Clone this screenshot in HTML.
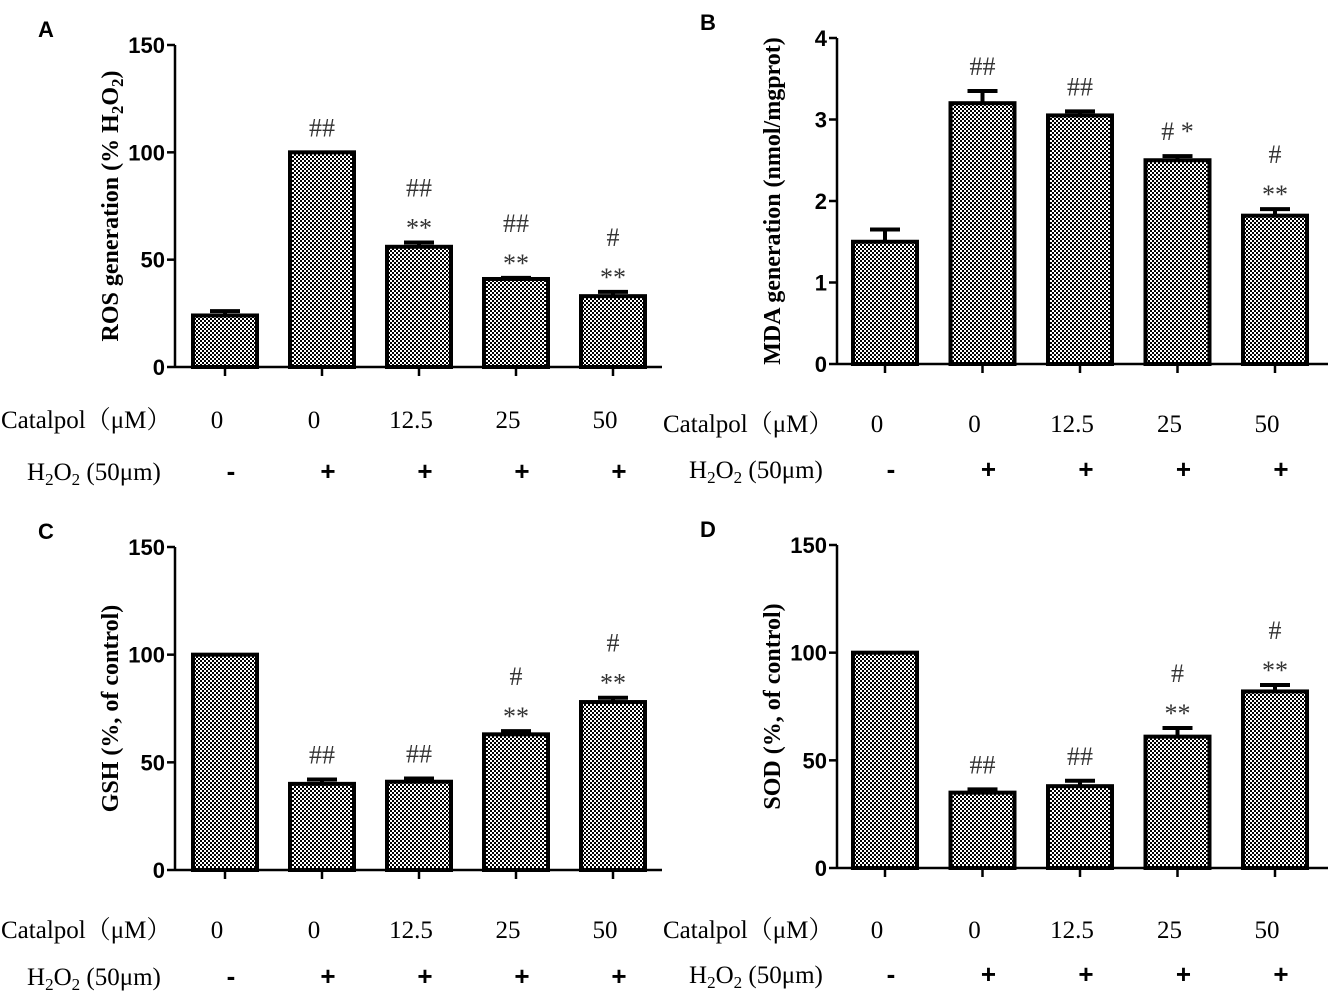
<!DOCTYPE html>
<html><head><meta charset="utf-8"><style>
body{margin:0;background:#fff;}
svg{display:block;}
</style></head><body>
<svg id="fig" width="1328" height="993" viewBox="0 0 1328 993" xmlns="http://www.w3.org/2000/svg">
<defs>
<pattern id="chk" width="4" height="4" patternUnits="userSpaceOnUse">
<rect width="4" height="4" fill="#fff"/>
<rect width="2" height="2" fill="#000"/>
<rect x="2" y="2" width="2" height="2" fill="#000"/>
</pattern>
</defs>
</svg>
<script>
const catalpolLabels = ["0","0","12.5","25","50"];
const h2o2Labels = ["-","+","+","+","+"];
const rosValues = [24,100,56,41,33];
const rosErrors = [2,0,2,0.5,2];
const rosAnnot = [[],["##"],["**","##"],["**","##"],["**","#"]];
const mdaValues = [1.5,3.2,3.05,2.5,1.82];
const mdaErrors = [0.15,0.15,0.05,0.05,0.08];
const mdaAnnot = [[],["##"],["##"],["# *"],["**","#"]];
const gshValues = [100,40,41,63,78];
const gshErrors = [0,2,1.5,1.5,2];
const gshAnnot = [[],["##"],["##"],["**","#"],["**","#"]];
const sodValues = [100,35,38,61,82];
const sodErrors = [0,1.5,2.5,4,3];
const sodAnnot = [[],["##"],["##"],["**","#"],["**","#"]];
const ticks150 = [0,50,100,150];
const ticks4 = [0,1,2,3,4];

const NS="http://www.w3.org/2000/svg";
const svg=document.getElementById('fig');
function mk(tag,attrs,parent){const e=document.createElementNS(NS,tag);for(const k in attrs)e.setAttribute(k,attrs[k]);(parent||svg).appendChild(e);return e;}

function panel(o){
  const g=mk('g',{});
  
  
  const ymax=o.ticks[o.ticks.length-1];
  const y=v=>o.y0-(v/ymax)*(o.y0-o.yTop);
  const x=i=>o.cx0+i*o.step;
  const L=mk('text',{x:o.ax-137,y:o.yTop-8,'font-family':'Liberation Sans, sans-serif','font-weight':'bold','font-size':'22px'},g);
  L.textContent=o.letter;
  
  
  const ya=mk('line',{x1:o.ax,y1:o.yTop,x2:o.ax,y2:o.y0+1,stroke:'#000','stroke-width':2.5},g);
  
  
  const xa=mk('line',{x1:o.ax,y1:o.y0,x2:o.xEnd,y2:o.y0,stroke:'#000','stroke-width':2.5},g);
  
  
  o.ticks.forEach(t=>{
    mk('line',{x1:o.ax-8,y1:y(t),x2:o.ax,y2:y(t),stroke:'#000','stroke-width':2.5},g);
    const tt=mk('text',{x:o.ax-10,y:y(t)+8,'text-anchor':'end','font-family':'Liberation Sans, sans-serif','font-weight':'bold','font-size':'22px'},g);
    tt.textContent=t;
    
    
  });
  const yt=mk('text',{transform:`translate(${o.ax-57},${(o.y0+o.yTop)/2}) rotate(-90)`,'text-anchor':'middle','font-family':'Liberation Serif, serif','font-weight':'bold','font-size':'24px'},g);
  yt.innerHTML=o.title;
  
  
  o.values.forEach((v,i)=>{
    const bw=64, cx=x(i);
    const b=mk('rect',{x:cx-bw/2,y:y(v),width:bw,height:o.y0-y(v),fill:'url(#chk)',stroke:'#000','stroke-width':4},g);
    
    
    const e=o.errors[i];
    if(e>0){
      const el=mk('path',{d:`M${cx},${y(v)} V${y(v+e)} M${cx-15},${y(v+e)} H${cx+15}`,stroke:'#000','stroke-width':4,fill:'none'},g);
      
      
    }
    let ay=y(v+e)-16;
    o.annot[i].forEach(s=>{
      const a=mk('text',{x:cx,y:ay+(s.indexOf('*')>=0&&s.indexOf('#')<0?10:0),'text-anchor':'middle','font-family':'Liberation Serif, serif','font-size':'26px',fill:'#333'},g);
      a.textContent=s;
      
      
      ay-=30;
    });
    mk('line',{x1:cx,y1:o.y0,x2:cx,y2:o.y0+9,stroke:'#000','stroke-width':2.5},g);
    const c=mk('text',{x:cx-8,y:o.rowA,'text-anchor':'middle','font-family':'Liberation Serif, serif','font-size':'25px'},g);
    c.textContent=catalpolLabels[i];
    
    
    const h=mk('text',{x:cx+6,y:o.rowB,'text-anchor':'middle','font-family':'Liberation Sans, sans-serif','font-weight':'bold','font-size':'26px'},g);
    h.textContent=h2o2Labels[i];
    
    
  });
  const r1=mk('text',{x:o.ax-174,y:o.rowA,'font-family':'Liberation Serif, Noto Serif CJK SC, serif','font-size':'25px'},g);
  r1.textContent='Catalpol（μM）';
  
  
  const r2=mk('text',{x:o.ax-148,y:o.rowB,'font-family':'Liberation Serif, serif','font-size':'25px'},g);
  r2.innerHTML='H<tspan font-size="17" dy="5">2</tspan><tspan dy="-5">O</tspan><tspan font-size="17" dy="5">2</tspan><tspan dy="-5"> (50μm)</tspan>';
  
  
}
panel({name:'panel-a-ros',letter:'A',ax:175,yTop:45,y0:367,xEnd:662,cx0:225,step:97,ticks:ticks150,values:rosValues,errors:rosErrors,annot:rosAnnot,rowA:428,rowB:480,
  title:'ROS generation (% H<tspan font-size="17" dy="5">2</tspan><tspan dy="-5">O</tspan><tspan font-size="17" dy="5">2</tspan><tspan dy="-5">)</tspan>'});
panel({name:'panel-b-mda',letter:'B',ax:837,yTop:38,y0:364,xEnd:1328,cx0:885,step:97.5,ticks:ticks4,values:mdaValues,errors:mdaErrors,annot:mdaAnnot,rowA:432,rowB:478,
  title:'MDA generation (nmol/mgprot)'});
panel({name:'panel-c-gsh',letter:'C',ax:175,yTop:547,y0:870,xEnd:662,cx0:225,step:97,ticks:ticks150,values:gshValues,errors:gshErrors,annot:gshAnnot,rowA:938,rowB:985,
  title:'GSH (%, of control)'});
panel({name:'panel-d-sod',letter:'D',ax:837,yTop:545,y0:868,xEnd:1328,cx0:885,step:97.5,ticks:ticks150,values:sodValues,errors:sodErrors,annot:sodAnnot,rowA:938,rowB:983,
  title:'SOD (%, of control)'});
</script>
</body></html>
